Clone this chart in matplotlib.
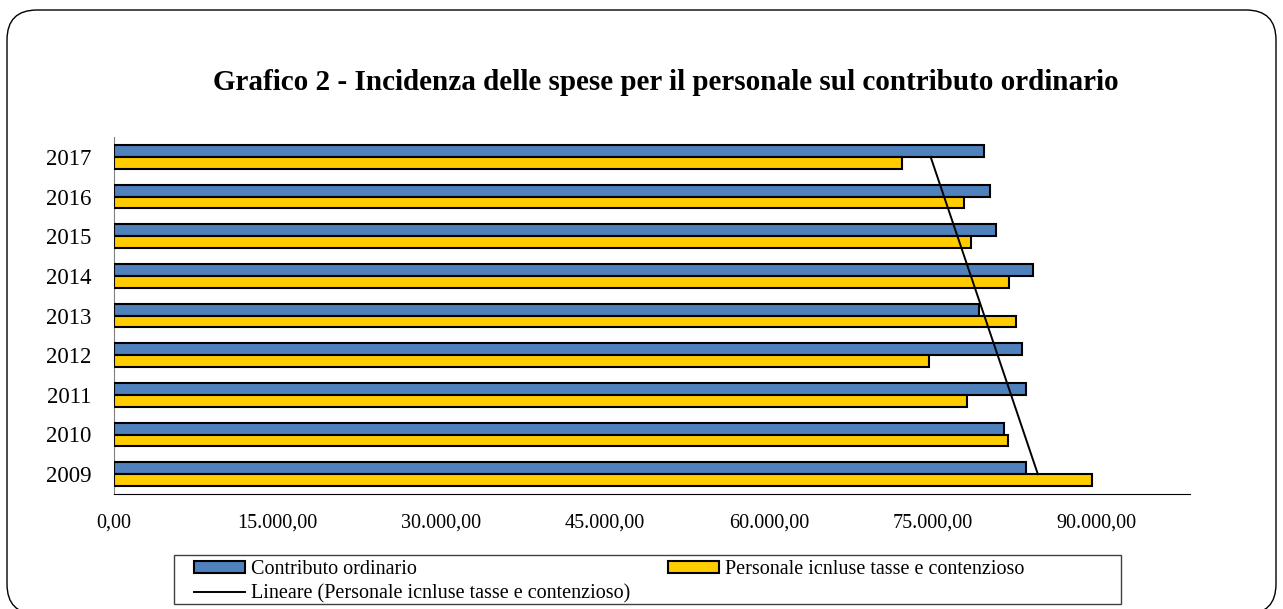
import matplotlib

matplotlib.use("Agg")
import matplotlib.pyplot as plt
from matplotlib.patches import FancyBboxPatch, Rectangle
import matplotlib.ticker as mticker
import numpy as np

plt.rcParams["font.family"] = ["Liberation Serif", "DejaVu Serif"]

# dati (valori in euro)
anni = ["2009", "2010", "2011", "2012", "2013", "2014", "2015", "2016", "2017"]
contributo = [83600, 81600, 83600, 83200, 79300, 84200, 80800, 80300, 79700]
personale = [89600, 81900, 78200, 74700, 82700, 82000, 78500, 77900, 72200]
x_ticks = [0, 15000, 30000, 45000, 60000, 75000, 90000]

blu = "#4F81BD"
giallo = "#FFCC00"

W, H = 1283, 609
fig = plt.figure(figsize=(W / 100, H / 100), dpi=100)
ax = fig.add_axes([114 / W, 1 - 494 / H, (1190 - 114) / W, (494 - 137) / H])

pos = np.arange(len(anni))
h = 0.295
b1 = ax.barh(pos + h / 2, contributo, height=h, color=blu, edgecolor="black",
             linewidth=1.5, zorder=3)
b2 = ax.barh(pos - h / 2, personale, height=h, color=giallo, edgecolor="black",
             linewidth=1.5, zorder=3)

# linea di tendenza lineare (come in Excel)
coef = np.polyfit(pos + 1, personale, 1)
trend = np.polyval(coef, pos + 1)
(l1,) = ax.plot(trend, pos, color="black", linewidth=1.4, zorder=4)

ax.set_xlim(0, 98600)
ax.set_ylim(-0.5, len(anni) - 0.5)
ax.set_xticks(x_ticks)
ax.xaxis.set_major_formatter(mticker.FuncFormatter(
    lambda v, p: f"{v:,.2f}".replace(",", "X").replace(".", ",").replace("X", ".")))
ax.set_yticks(pos)
ax.set_yticklabels(anni)
ax.tick_params(axis="both", length=0)
ax.tick_params(axis="y", pad=16, labelsize=16.5)
ax.tick_params(axis="x", pad=14, labelsize=14.5)
ax.spines["top"].set_visible(False)
ax.spines["right"].set_visible(False)
ax.spines["left"].set_color("#808080")
ax.spines["bottom"].set_color("black")

fig.text(666 / W, 1 - 82 / H, "Grafico 2 - Incidenza delle spese per il personale sul contributo ordinario",
         ha="center", va="center", fontsize=21, fontweight="bold")

# legenda: cornice e due blocchi
fig.patches.append(Rectangle((174 / W, 1 - 604 / H), (1121 - 174) / W, 49 / H,
                             transform=fig.transFigure, facecolor="white",
                             edgecolor="#404040", linewidth=1.0))
leg_kw = dict(fontsize=14.5, frameon=False, borderpad=0, labelspacing=0.28,
              handlelength=2.55, handleheight=0.55, handletextpad=0.3, borderaxespad=0)
leg1 = fig.legend([b1, l1], ["Contributo ordinario", "Lineare (Personale icnluse tasse e contenzioso)"],
                  loc="upper left", bbox_to_anchor=(194 / W, 1 - 560 / H), **leg_kw)
leg2 = fig.legend([b2], ["Personale icnluse tasse e contenzioso"],
                  loc="upper left", bbox_to_anchor=(668 / W, 1 - 560 / H), **leg_kw)

box = FancyBboxPatch((7 / W, -5 / H), (1276 - 7) / W, (599 + 5) / H,
                     boxstyle=f"round,pad=0,rounding_size={30 / W}",
                     mutation_aspect=W / H, transform=fig.transFigure,
                     facecolor="none", edgecolor="black", linewidth=1.0, clip_on=False)
fig.patches.append(box)

fig.savefig("out.png", dpi=100)
